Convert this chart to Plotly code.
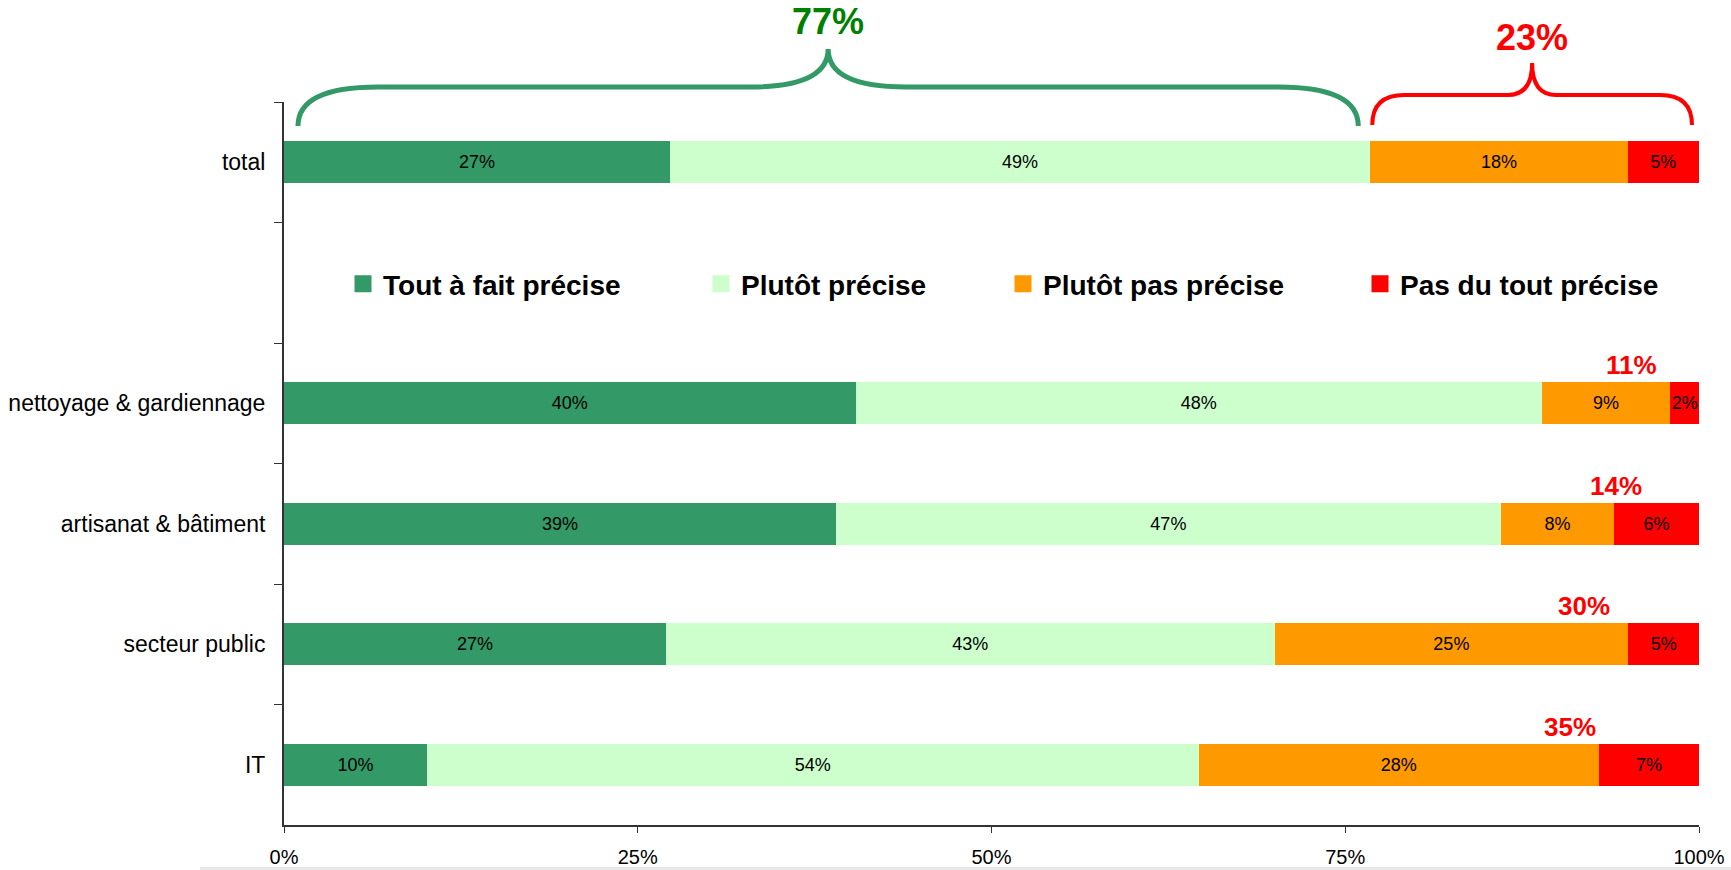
import plotly.graph_objects as go

# data
categories = ["total", "nettoyage & gardiennage", "artisanat & bâtiment", "secteur public", "IT"]
tout_a_fait = [27, 40, 39, 27, 10]
plutot = [49, 48, 47, 43, 54]
plutot_pas = [18, 9, 8, 25, 28]
pas_du_tout = [5, 2, 6, 5, 7]
neg_share = [23, 11, 14, 30, 35]
pos_share_total = 77
x_ticks = [0, 25, 50, 75, 100]
x_ticklabels = ["0%", "25%", "50%", "75%", "100%"]

series = ["Tout à fait précise", "Plutôt précise", "Plutôt pas précise", "Pas du tout précise"]
colors = ["#339966", "#CCFFCC", "#FF9900", "#FF0000"]
values = [tout_a_fait, plutot, plutot_pas, pas_du_tout]

# y slots: a blank one under "total" holds the legend
y_order = [categories[0], " "] + categories[1:]

W, H = 1731, 870
ML, MR, MT, MB = 284, 32, 102, 45
PW, PH = W - ML - MR, H - MT - MB
FONT = "Arial, Liberation Sans, sans-serif"


def px_x(px):
    return (px - ML) / PW


def px_y(py):
    return (H - MB - py) / PH


def brace(x0, x1, xm, yb, yt, yp, rx, rm):
    # x in data units (0-100), y in pixels from top
    X = lambda v: v / 100
    dx, dm = rx / PW, rm / PW
    yb, yt, yp = px_y(yb), px_y(yt), px_y(yp)
    a, b, m = X(x0), X(x1), X(xm)
    return (f"M{a},{yb} Q{a},{yt} {a + dx},{yt} L{m - dm},{yt} Q{m},{yt} {m},{yp} "
            f"Q{m},{yt} {m + dm},{yt} L{b - dx},{yt} Q{b},{yt} {b},{yb}")


fig = go.Figure()
for name, col, vals in zip(series, colors, values):
    fig.add_trace(go.Bar(
        y=categories, x=vals, name=name, orientation="h",
        marker=dict(color=col, line=dict(width=0)),
        text=[f"{v}%" for v in vals], textposition="inside",
        insidetextanchor="middle", textangle=0, constraintext="none",
        textfont=dict(size=18, color="black", family=FONT),
        width=0.35, showlegend=False, hoverinfo="skip"))

# legend entries, each in its own legend so they can be spaced like the original
legend_px = [343, 701, 1003, 1360]
for i, (name, col) in enumerate(zip(series, colors)):
    lg = "legend" if i == 0 else f"legend{i + 1}"
    fig.add_trace(go.Bar(
        y=[None], x=[None], name=name, orientation="h", legend=lg,
        marker=dict(color=col, line=dict(color=col, width=5)), showlegend=True))

leg_common = dict(orientation="h", xanchor="left", yanchor="middle", y=px_y(284),
                  bgcolor="rgba(0,0,0,0)", borderwidth=0,
                  font=dict(size=28, family=FONT, color="black", weight="bold"))

# braces over the total bar
tot = [v[0] for v in values]
pos_end = (tot[0] + tot[1]) / sum(tot) * 100
g0, g1 = 14 / PW * 100, pos_end - 12 / PW * 100
r0, r1 = pos_end + 2 / PW * 100, 100 - 7 / PW * 100
gm, rm = (g0 + g1) / 2, (r0 + r1) / 2

shapes = [
    dict(type="path", xref="paper", yref="paper",
         path=brace(g0, g1, gm, 126, 87, 49, 80, 78),
         line=dict(color="#339966", width=5)),
    dict(type="path", xref="paper", yref="paper",
         path=brace(r0, r1, rm, 125, 95, 63, 32, 24),
         line=dict(color="#FF0000", width=4)),
    dict(type="rect", xref="paper", yref="paper", x0=px_x(200), x1=px_x(W),
         y0=px_y(H), y1=px_y(867), fillcolor="#e8e8e8", line=dict(width=0)),
]

annotations = [
    dict(x=gm / 100, y=px_y(22), xref="paper", yref="paper", text=f"{pos_share_total}%",
         xanchor="center", yanchor="middle", showarrow=False,
         font=dict(size=36, color="#008000", family=FONT, weight="bold")),
    dict(x=rm / 100, y=px_y(37), xref="paper", yref="paper", text=f"{neg_share[0]}%",
         xanchor="center", yanchor="middle", showarrow=False,
         font=dict(size=36, color="#FF0000", family=FONT, weight="bold")),
]
neg_label_x = [95.2, 94.1, 91.9, 90.9]
for cat, share, lx in zip(categories[1:], neg_share[1:], neg_label_x):
    annotations.append(dict(x=lx, y=cat, xref="x", yref="y", yshift=38, text=f"{share}%",
                            xanchor="center", yanchor="middle", showarrow=False,
                            font=dict(size=26, color="#FF0000", family=FONT, weight="bold")))

fig.update_layout(
    width=W, height=H, barmode="stack", barnorm="percent",
    margin=dict(l=ML, r=MR, t=MT, b=MB),
    paper_bgcolor="white", plot_bgcolor="white",
    font=dict(family=FONT, color="black"),
    shapes=shapes, annotations=annotations,
    legend=dict(x=px_x(legend_px[0]), **leg_common),
    legend2=dict(x=px_x(legend_px[1]), **leg_common),
    legend3=dict(x=px_x(legend_px[2]), **leg_common),
    legend4=dict(x=px_x(legend_px[3]), **leg_common),
)
fig.update_xaxes(range=[0, 100], tickvals=x_ticks, ticktext=x_ticklabels, automargin=False,
                 showgrid=False, zeroline=False, showline=True, linecolor="#333333",
                 linewidth=2, ticks="outside", ticklen=6, tickcolor="#333333",
                 ticklabelstandoff=7, tickfont=dict(size=20, color="black"))
fig.update_yaxes(type="category", categoryorder="array", categoryarray=y_order,
                 range=[len(y_order) - 0.5, -0.5], tickson="boundaries", automargin=False,
                 showgrid=False, showline=True, linecolor="#333333", linewidth=2,
                 ticks="outside", ticklen=8, tickcolor="#333333",
                 ticklabelstandoff=12, tickfont=dict(size=23, color="black"))

fig.write_html("out.html", config={"displayModeBar": False},
               post_script="document.body.style.margin='0px';")
